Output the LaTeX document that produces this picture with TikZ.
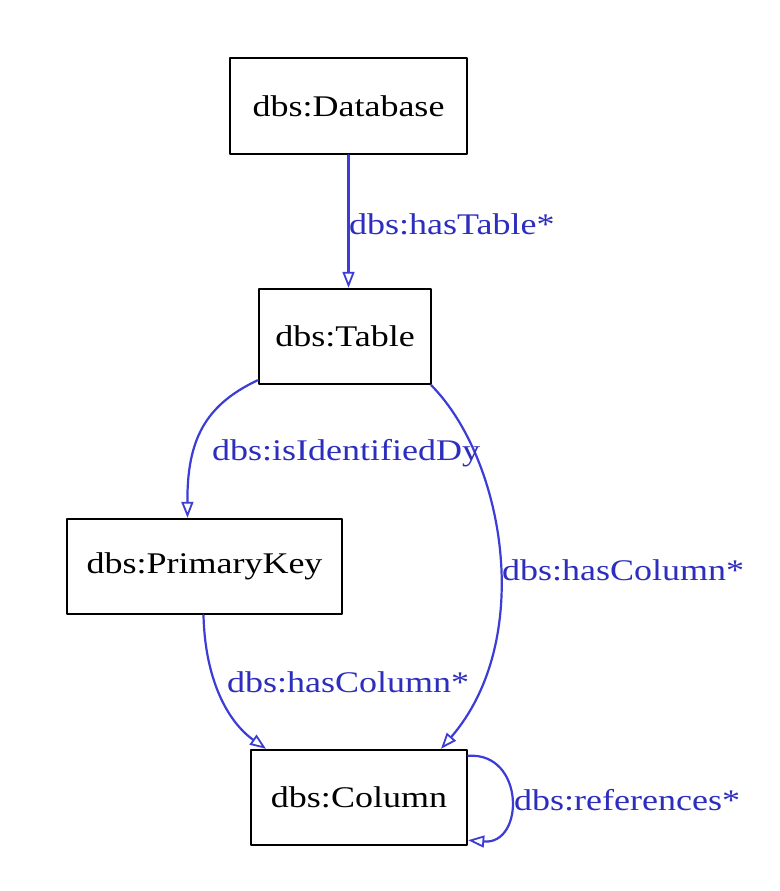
\documentclass[tikz,border=0pt]{standalone}
\usepackage{fontspec}
\setmainfont{Liberation Serif}[FakeStretch=1.2]
\usetikzlibrary{arrows.meta}
\definecolor{edgeblue}{RGB}{60,60,215}
\definecolor{labelblue}{RGB}{45,45,190}
\tikzset{
	cls/.style={draw=black,line width=2.4pt,fill=white,inner sep=0pt,font=\fontsize{30}{34}\selectfont},
	rel/.style={draw=edgeblue,line width=2.2pt,-{Triangle[open,length=16pt,width=12pt,line width=1.8pt]}},
	rellabel/.style={text=labelblue,inner sep=0pt,font=\fontsize{30}{34}\selectfont}
}
\begin{document}
\begin{tikzpicture}[line cap=round,line join=round,x=1pt,y=-1pt]
		\useasboundingbox[fill=white] (0,0) rectangle (779,891);
		\node[cls,minimum width=237pt,minimum height=96pt] (db) at (348.5,106) {dbs:Database};
		\node[cls,minimum width=172pt,minimum height=95pt] (tab) at (345,336.5) {dbs:Table};
		\node[cls,minimum width=275pt,minimum height=95pt] (pk) at (204.5,566.5) {dbs:PrimaryKey};
		\node[cls,minimum width=216pt,minimum height=95pt] (col) at (359,797.5) {dbs:Column};
		\draw[rel] (db.south) -- (db.south |- tab.north);
		\draw[rel] ([yshift=5pt]tab.south west) .. controls (205,405) and (187,440) .. ([xshift=-17pt]pk.north);
		\draw[rel] ([xshift=-1pt]tab.south east) .. controls (505,460) and (535,640) .. ([xshift=82pt]col.north);
		\draw[rel] ([xshift=-1pt]pk.south) .. controls (205,680) and (228,722) .. ([xshift=-93pt]col.north);
		\draw[rel] ([yshift=-7pt]col.north east) .. controls (525,752) and (525,845) .. ([yshift=6pt]col.south east);
		\node[rellabel,anchor=base west] (l1) at (349,234) {dbs:hasTable*};
		\node[rellabel,anchor=base west] (l2) at (212,460) {dbs:isIdentifiedDy};
		\node[rellabel,anchor=base west] (l3) at (502,580) {dbs:hasColumn*};
		\node[rellabel,anchor=base west] (l4) at (227,692) {dbs:hasColumn*};
		\node[rellabel,anchor=base west] (l5) at (514,810) {dbs:references*};
	\end{tikzpicture}
\end{document}
